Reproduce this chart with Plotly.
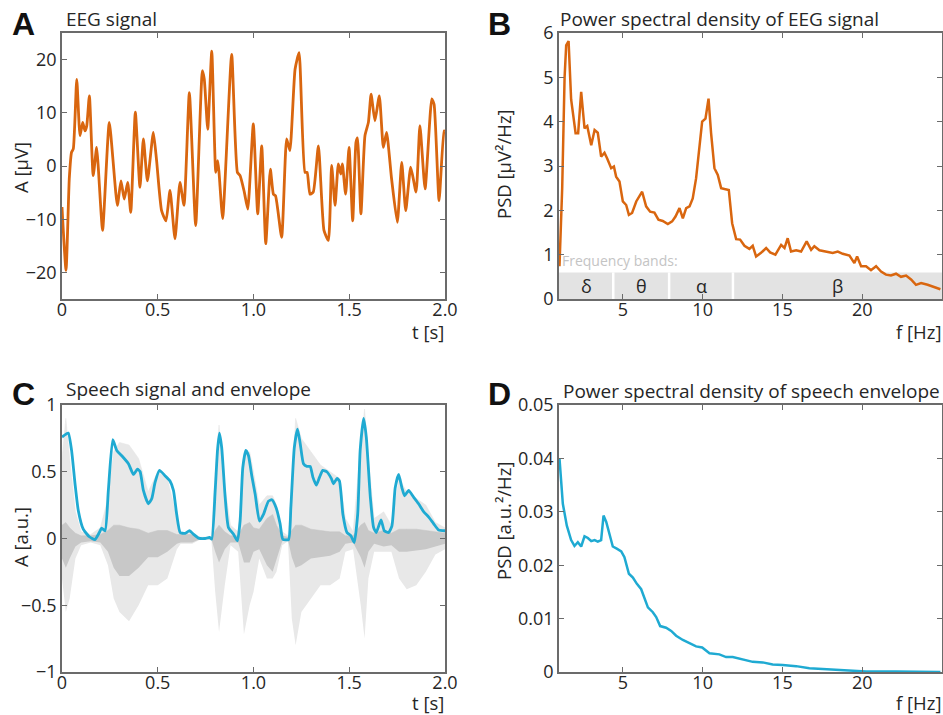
import plotly.graph_objects as go

W, H = 943, 715

# ---------------- data ----------------
eeg_t = [0.0, 0.021, 0.038, 0.05, 0.059, 0.077, 0.094, 0.108, 0.12, 0.129, 0.143, 0.163, 0.181, 0.19,
         0.212, 0.247, 0.289, 0.308, 0.325, 0.343, 0.359, 0.383, 0.407, 0.425, 0.446, 0.477, 0.494,
         0.52, 0.543, 0.564, 0.59, 0.616, 0.637, 0.665, 0.698, 0.733, 0.743, 0.761, 0.782, 0.803,
         0.813, 0.82, 0.839, 0.886, 0.916, 0.93, 0.952, 0.97, 0.999, 1.022, 1.043, 1.064, 1.088,
         1.104, 1.115, 1.147, 1.173, 1.19, 1.217, 1.238, 1.269, 1.28, 1.295, 1.312, 1.339, 1.368,
         1.391, 1.408, 1.426, 1.443, 1.456, 1.464, 1.481, 1.499, 1.518, 1.535, 1.543, 1.561, 1.582,
         1.6, 1.614, 1.634, 1.657, 1.678, 1.695, 1.721, 1.751, 1.774, 1.795, 1.821, 1.849, 1.869,
         1.896, 1.931, 1.943, 1.969, 1.995, 2.0]
eeg_uv = [-7.7, -19.6, -2.4, 2.6, 3.2, 16.3, 5.7, 8.2, 6.6, 7.5, 13.2, -1.8, 3.5, -0.6,
          -12.1, 8.2, -7.4, -2.8, -6.2, -3.1, -8.7, 10.1, -4.0, 5.1, -2.8, 6.3, 1.0,
          -8.4, -10.3, -4.6, -13.7, -3.1, -7.4, 13.8, -11.2, 17.9, 16.3, 6.9, 21.6, -1.2,
          1.0, -1.2, -9.9, 21.0, -1.2, -1.8, -4.9, -8.1, 7.9, -9.0, 3.8, -14.6, -0.6,
          -5.3, -5.6, -13.4, 5.1, 2.9, 18.2, 21.3, -1.2, -1.2, -5.3, -4.9, 3.8, -12.1,
          -14.0, 0.1, -7.4, 0.4, -1.5, 0.4, -5.3, 3.5, -10.3, 4.4, 5.3, -9.0, 5.7,
          8.2, 13.5, 8.5, 13.2, 3.5, 6.3, -2.4, -10.6, 0.7, -8.4, -0.2, -4.9, 7.6,
          -4.3, 12.6, 11.6, -6.5, 6.6, 6.5]

eeg_f = [1.03, 1.2, 1.35, 1.45, 1.6, 1.76, 2.04, 2.2, 2.39, 2.6, 2.77, 3.02, 3.23, 3.43, 3.64, 3.85,
         4.02, 4.27, 4.44, 4.58, 4.79, 5.0, 5.21, 5.38, 5.58, 5.84, 6.21, 6.46, 6.71, 6.98, 7.23,
         7.5, 7.82, 8.09, 8.3, 8.55, 8.76, 8.97, 9.18, 9.38, 9.59, 9.8, 9.97, 10.18, 10.37, 10.53,
         10.74, 10.95, 11.16, 11.37, 11.64, 11.85, 12.1, 12.35, 12.62, 12.93, 13.14, 13.35, 13.66,
         13.98, 14.23, 14.56, 14.92, 15.13, 15.33, 15.54, 15.86, 16.17, 16.52, 16.8, 17.0, 17.32,
         17.74, 18.15, 18.47, 18.78, 19.2, 19.51, 19.68, 19.93, 20.24, 20.55, 20.87, 21.18, 21.49,
         21.8, 22.12, 22.43, 22.75, 23.06, 23.37, 23.69, 24.1, 24.52, 24.9]
eeg_psd = [0.74, 2.5, 5.0, 5.72, 5.82, 4.5, 3.74, 3.74, 4.67, 3.85, 3.9, 3.47, 3.81, 3.75, 3.21, 3.3,
           3.17, 2.95, 2.99, 2.76, 2.65, 2.2, 2.12, 1.9, 1.94, 2.2, 2.42, 2.09, 1.97, 1.95, 1.79,
           1.76, 1.69, 1.75, 1.86, 2.05, 1.82, 2.05, 2.09, 2.27, 2.72, 3.36, 4.0, 4.07, 4.52, 3.74,
           2.95, 2.8, 2.5, 2.48, 2.46, 1.71, 1.35, 1.34, 1.2, 1.13, 1.2, 0.96, 1.04,
           1.15, 1.05, 1.0, 1.22, 1.15, 1.37, 1.07, 1.1, 1.07, 1.3, 1.11, 1.19, 1.1,
           1.07, 1.04, 1.07, 1.02, 0.98, 0.81, 0.96, 0.74, 0.74, 0.65, 0.74, 0.62, 0.55,
           0.53, 0.57, 0.5, 0.53, 0.44, 0.32, 0.36, 0.32, 0.27, 0.22]

band_edges = [1, 4.4, 7.9, 11.9, 25]
band_names = ["δ", "θ", "α", "β"]
band_height = 0.6

speech_t = [0, 0.02, 0.04, 0.07, 0.1, 0.15, 0.2, 0.24, 0.27, 0.3, 0.35, 0.4, 0.45, 0.5, 0.55,
            0.6, 0.62, 0.68, 0.72, 0.78, 0.8, 0.82, 0.85, 0.88, 0.92, 0.95, 0.98, 1.0, 1.03, 1.07,
            1.1, 1.12, 1.15, 1.18, 1.2, 1.22, 1.25, 1.3, 1.35, 1.4, 1.45, 1.48, 1.52, 1.56, 1.58,
            1.6, 1.63, 1.68, 1.72, 1.76, 1.8, 1.85, 1.9, 1.95, 2.0]
speech_hi = [0.6, 0.9, 0.6, 0.2, 0.05, 0.03, 0.08, 0.3, 0.65, 0.72, 0.7, 0.6, 0.35, 0.5, 0.45,
             0.15, 0.04, 0.04, 0.01, 0.01, 0.5, 0.85, 0.4, 0.1, 0.05, 0.6, 0.65, 0.5, 0.25, 0.32,
             0.32, 0.25, 0.05, 0.02, 0.4, 0.9, 0.75, 0.65, 0.55, 0.5, 0.45, 0.15, 0.05, 0.7, 0.97,
             0.6, 0.15, 0.2, 0.1, 0.45, 0.35, 0.3, 0.25, 0.12, 0.08]
speech_lo = [-0.3, -0.55, -0.45, -0.15, -0.05, -0.03, -0.05, -0.2, -0.45, -0.55, -0.62, -0.5, -0.35, -0.35, -0.3,
             -0.08, -0.04, -0.04, -0.01, -0.01, -0.4, -0.7, -0.35, -0.05, -0.1, -0.72, -0.5, -0.4, -0.15, -0.3,
             -0.3, -0.25, -0.05, -0.02, -0.6, -0.8, -0.55, -0.45, -0.35, -0.35, -0.3, -0.1, -0.08, -0.5, -0.75,
             -0.3, -0.1, -0.1, -0.1, -0.3, -0.38, -0.35, -0.25, -0.12, -0.08]
speech_core_hi = [0.1, 0.12, 0.08, 0.04, 0.02, 0.02, 0.03, 0.06, 0.1, 0.1, 0.08, 0.07, 0.04, 0.06, 0.06,
                  0.03, 0.03, 0.03, 0.005, 0.005, 0.06, 0.1, 0.05, 0.02, 0.02, 0.1, 0.12, 0.08, 0.07, 0.15,
                  0.18, 0.1, 0.02, 0.01, 0.06, 0.1, 0.1, 0.07, 0.06, 0.05, 0.05, 0.02, 0.02, 0.1, 0.12,
                  0.06, 0.04, 0.06, 0.04, 0.07, 0.07, 0.07, 0.06, 0.05, 0.04]
speech_core_lo = [-0.15, -0.22, -0.15, -0.06, -0.03, -0.02, -0.03, -0.1, -0.22, -0.28, -0.28, -0.22, -0.14, -0.14, -0.1,
                  -0.04, -0.03, -0.03, -0.005, -0.005, -0.1, -0.18, -0.08, -0.03, -0.03, -0.18, -0.18, -0.1, -0.08, -0.2,
                  -0.25, -0.15, -0.02, -0.01, -0.14, -0.22, -0.2, -0.15, -0.14, -0.13, -0.1, -0.04, -0.03, -0.14, -0.22,
                  -0.1, -0.04, -0.06, -0.05, -0.1, -0.1, -0.09, -0.08, -0.06, -0.04]

env_t = [0, 0.019, 0.033, 0.05, 0.068, 0.085, 0.111, 0.143, 0.172, 0.195, 0.207, 0.225, 0.242, 0.265,
         0.286, 0.312, 0.347, 0.373, 0.394, 0.408, 0.425, 0.451, 0.469, 0.486, 0.509, 0.538, 0.564,
         0.582, 0.599, 0.617, 0.643, 0.666, 0.686, 0.713, 0.747, 0.77, 0.782, 0.8, 0.812, 0.822,
         0.834, 0.852, 0.869, 0.895, 0.916, 0.93, 0.944, 0.96, 0.974, 0.991, 1.009, 1.031, 1.052,
         1.078, 1.096, 1.118, 1.139, 1.153, 1.183, 1.195, 1.213, 1.23, 1.244, 1.261, 1.279, 1.296,
         1.31, 1.328, 1.345, 1.362, 1.383, 1.406, 1.418, 1.436, 1.449, 1.467, 1.488, 1.509, 1.526,
         1.544, 1.557, 1.575, 1.589, 1.61, 1.627, 1.641, 1.666, 1.683, 1.706, 1.723, 1.74, 1.758,
         1.775, 1.789, 1.81, 1.836, 1.862, 1.889, 1.915, 1.941, 1.967, 2.0]
env_a = [0.76, 0.78, 0.79, 0.66, 0.41, 0.21, 0.07, 0.013, -0.008, 0.045, 0.078, 0.058, 0.36, 0.74,
         0.66, 0.62, 0.56, 0.48, 0.52, 0.50, 0.36, 0.26, 0.30, 0.42, 0.51, 0.47, 0.43,
         0.36, 0.18, 0.045, 0.038, 0.058, 0.033, 0.003, 0.0, 0.008, -0.005, 0.36, 0.66, 0.79,
         0.68, 0.31, 0.083, 0.033, -0.018, 0.13, 0.53, 0.66, 0.62, 0.47, 0.33, 0.13, 0.18,
         0.28, 0.29, 0.23, 0.11, -0.005, -0.008, 0.23, 0.68, 0.82, 0.71, 0.56, 0.54, 0.54,
         0.46, 0.40, 0.46, 0.51, 0.50, 0.45, 0.41, 0.45, 0.43, 0.18, 0.045, 0.02, -0.03,
         0.18, 0.66, 0.90, 0.76, 0.31, 0.083, 0.045, 0.14, 0.058, 0.045, 0.095, 0.38, 0.48,
         0.38, 0.32, 0.36, 0.31, 0.26, 0.2, 0.16, 0.11, 0.063, 0.058]

env_f = [1.03, 1.24, 1.49, 1.76, 1.97, 2.18, 2.39, 2.6, 2.81, 3.02, 3.23, 3.43, 3.64, 3.79, 3.96,
         4.16, 4.37, 4.62, 4.9, 5.1, 5.38, 5.63, 5.88, 6.15, 6.36, 6.57, 6.88, 7.09, 7.34, 7.71,
         8.03, 8.34, 8.76, 9.18, 9.59, 9.97, 10.43, 11.05, 11.47, 11.89, 12.52, 13.14, 13.77,
         14.39, 15.02, 15.86, 16.69, 17.74, 18.99, 20.24, 22.1, 24.9]
env_psd = [0.040, 0.0315, 0.0274, 0.0247, 0.0236, 0.0243, 0.0235, 0.0254, 0.0251, 0.0245, 0.0247,
           0.0244, 0.0247, 0.0293, 0.0281, 0.0256, 0.0235, 0.0231, 0.0226, 0.0215, 0.0184, 0.0177,
           0.0165, 0.0155, 0.0137, 0.0121, 0.0112, 0.0103, 0.0086, 0.0083, 0.0077, 0.0068, 0.006,
           0.0054, 0.0048, 0.0046, 0.0035, 0.0033, 0.0028, 0.0028, 0.0023, 0.0019, 0.0018, 0.0014,
           0.0013, 0.0011, 0.0007, 0.0005, 0.0003, 0.0001, 0.0001, 0.0]

t_ticks = [0, 0.5, 1.0, 1.5, 2.0]
t_ticktext = ["0", "0.5", "1.0", "1.5", "2.0"]
f_ticks = [5, 10, 15, 20]
eeg_ticks = [-20, -10, 0, 10, 20]
eegpsd_ticks = [0, 1, 2, 3, 4, 5, 6]
speech_ticks = [-1, -0.5, 0, 0.5, 1]
speech_ticktext = ["−1", "−0.5", "0", "0.5", "1"]
envpsd_ticks = [0, 0.01, 0.02, 0.03, 0.04, 0.05]
envpsd_ticktext = ["0", "0.01", "0.02", "0.03", "0.04", "0.05"]

# ---------------- style ----------------
ORANGE = "#D9660F"
CYAN = "#1FAAD2"
FONT = "Open Sans"
TXT = "#262626"
AX = "#6b6b6b"


def px(x):
    return x / W


def py(y):
    return 1 - y / H


fig = go.Figure()

# Panel A
fig.add_trace(go.Scatter(x=eeg_t, y=eeg_uv, mode="lines", xaxis="x", yaxis="y",
                         line=dict(color=ORANGE, width=2.8, shape="spline", smoothing=0.5)))
# Panel B
fig.add_trace(go.Scatter(x=eeg_f, y=eeg_psd, mode="lines", xaxis="x2", yaxis="y2",
                         line=dict(color=ORANGE, width=2.5)))
# Panel C: speech waveform (outer + core), envelope
fig.add_trace(go.Scatter(x=speech_t, y=speech_lo, mode="lines", xaxis="x3", yaxis="y3",
                         line=dict(width=0, color="#e4e4e4")))
fig.add_trace(go.Scatter(x=speech_t, y=speech_hi, mode="lines", xaxis="x3", yaxis="y3",
                         line=dict(width=0.5, color="#e4e4e4"), fill="tonexty", fillcolor="#e8e8e8"))
fig.add_trace(go.Scatter(x=speech_t, y=speech_core_lo, mode="lines", xaxis="x3", yaxis="y3",
                         line=dict(width=0, color="#c4c4c4")))
fig.add_trace(go.Scatter(x=speech_t, y=speech_core_hi, mode="lines", xaxis="x3", yaxis="y3",
                         line=dict(width=0.5, color="#c4c4c4"), fill="tonexty", fillcolor="#c8c8c8"))
fig.add_trace(go.Scatter(x=env_t, y=env_a, mode="lines", xaxis="x3", yaxis="y3",
                         line=dict(color=CYAN, width=2.8, shape="spline", smoothing=0.5)))
# Panel D
fig.add_trace(go.Scatter(x=env_f, y=env_psd, mode="lines", xaxis="x4", yaxis="y4",
                         line=dict(color=CYAN, width=2.5)))

# frequency bands (panel B)
shapes = []
annotations = []
for i, name in enumerate(band_names):
    x0, x1 = band_edges[i], band_edges[i + 1]
    shapes.append(dict(type="rect", xref="x2", yref="y2", x0=x0, x1=x1, y0=0, y1=band_height,
                       fillcolor="#e3e3e3", line=dict(width=0), layer="below"))
    annotations.append(dict(xref="x2", yref="y2", x=(x0 + x1) / 2, y=band_height / 2, text=name,
                            showarrow=False, font=dict(family=FONT, size=18, color=TXT)))
for e in band_edges[1:-1]:
    shapes.append(dict(type="line", xref="x2", yref="y2", x0=e, x1=e, y0=0, y1=band_height,
                       line=dict(color="white", width=2.5), layer="below"))
annotations.append(dict(xref="x2", yref="y2", x=band_edges[0] + 0.05, y=0.87, text="Frequency bands:",
                        showarrow=False, xanchor="left", font=dict(family=FONT, size=14, color="#c4c4c4")))


def ann(x, y, text, size=18.5, bold=False, xanchor="left", angle=0, family=FONT, yanchor="middle"):
    annotations.append(dict(xref="paper", yref="paper", x=px(x), y=py(y), text=text, showarrow=False,
                            xanchor=xanchor, yanchor=yanchor, textangle=angle,
                            font=dict(family=family, size=size, color="#111" if bold else TXT,
                                      weight="bold" if bold else "normal")))


for (lx, ly, letter) in [(10, 24, "A"), (486, 24, "B"), (10, 394, "C"), (486, 394, "D")]:
    ann(lx, ly, letter, size=32, bold=True, family="Liberation Sans")

ann(64, 19, "EEG signal", size=19)
ann(558, 19, "Power spectral density of EEG signal", size=19)
ann(64, 389, "Speech signal and envelope", size=19)
ann(561, 391, "Power spectral density of speech envelope", size=19)

ann(20, 168, "A [µV]", angle=-90, xanchor="center")
ann(503, 164, "PSD [µV²/Hz]", angle=-90, xanchor="center")
ann(20, 537, "A [a.u.]", angle=-90, xanchor="center")
ann(503, 521, "PSD [a.u.²/Hz]", angle=-90, xanchor="center")

ann(446, 331, "t [s]", xanchor="right")
ann(943, 331, "f [Hz]", xanchor="right")
ann(446, 702, "t [s]", xanchor="right")
ann(943, 702, "f [Hz]", xanchor="right")

fig.update_layout(shapes=shapes, annotations=annotations)

common = dict(showline=True, mirror="ticks", linecolor=AX, linewidth=1.5, ticks="inside",
              ticklen=5, tickwidth=1.3, tickcolor=AX, showgrid=False, zeroline=False,
              automargin=False, tickfont=dict(family=FONT, size=18, color=TXT))
xcommon = dict(common, ticklabelstandoff=-6)

dA_x = [px(62), px(445)]
dB_x = [px(559), px(942)]
d_top = [py(299), py(33)]
d_bot = [py(672), py(405)]

fig.update_layout(
    template="none",
    width=W, height=H, margin=dict(l=0, r=0, t=0, b=0, autoexpand=False),
    paper_bgcolor="white", plot_bgcolor="white", showlegend=False,
    xaxis=dict(domain=dA_x, anchor="y", range=[0, 2], tickvals=t_ticks, ticktext=t_ticktext, **xcommon),
    yaxis=dict(domain=d_top, anchor="x", range=[-25, 25], tickvals=eeg_ticks, **common),
    xaxis2=dict(domain=dB_x, anchor="y2", range=[1, 25], tickvals=f_ticks, **xcommon),
    yaxis2=dict(domain=d_top, anchor="x2", range=[0, 6], tickvals=eegpsd_ticks, **common),
    xaxis3=dict(domain=dA_x, anchor="y3", range=[0, 2], tickvals=t_ticks, ticktext=t_ticktext, **xcommon),
    yaxis3=dict(domain=d_bot, anchor="x3", range=[-1, 1], tickvals=speech_ticks, ticktext=speech_ticktext, **common),
    xaxis4=dict(domain=dB_x, anchor="y4", range=[1, 25], tickvals=f_ticks, **xcommon),
    yaxis4=dict(domain=d_bot, anchor="x4", range=[0, 0.05], tickvals=envpsd_ticks, ticktext=envpsd_ticktext, **common),
)

fig.write_html("out.html", config={"displayModeBar": False},
               post_script="document.body.style.margin='0';document.body.style.overflow='hidden';")
